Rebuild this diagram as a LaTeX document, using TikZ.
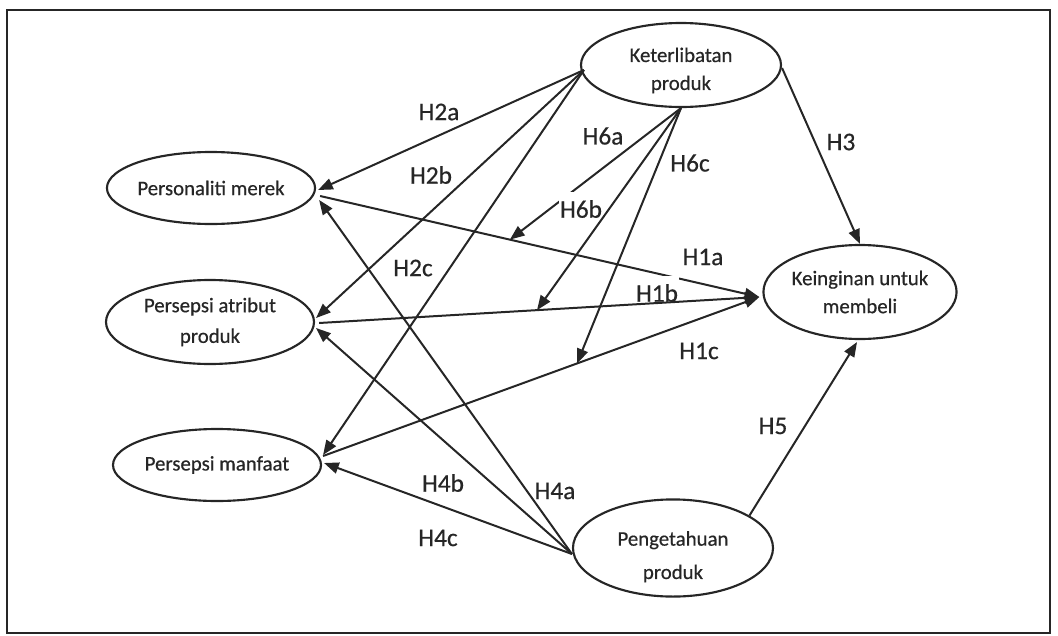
\documentclass[tikz,border=0pt]{standalone}
\usepackage{fontspec}
\setmainfont{Carlito}[FakeBold=0.5]
\usetikzlibrary{shapes.geometric,arrows.meta,calc}
\definecolor{ink}{HTML}{262626}
\begin{document}
\begin{tikzpicture}[x=0.75pt,y=-0.75pt,
  var/.style={draw=ink, ellipse, line width=1.6pt, inner sep=0pt, align=center, text=ink,
              font=\fontsize{15.6pt}{21pt}\selectfont},
  hyp/.style={text=ink, font=\fontsize{19pt}{22pt}\selectfont, inner sep=1pt},
  cut/.style={fill=white, inner xsep=1pt, inner ysep=6pt},
  arr/.style={draw=ink, line width=1.5pt, -{Triangle[length=11pt,width=8.5pt]}}]
\useasboundingbox (0,0) rectangle (1058,636);
\draw[ink, line width=1.6pt] (7,10) rectangle (1050,633);

% variables
\node[var, minimum width=154.5pt, minimum height=54pt] (pm) at (211,188) {Personaliti merek};
\node[var, minimum width=156pt, minimum height=63pt] (pa) at (210,322) {Persepsi atribut\\[2pt]produk};
\node[var, minimum width=156pt, minimum height=54pt] (pf) at (217,465) {Persepsi manfaat};
\node[var, minimum width=150pt, minimum height=63pt] (kp) at (681,65) {\rule{0pt}{19pt}Keterlibatan\\produk};
\node[var, minimum width=142.5pt, minimum height=70.5pt] (kb) at (860,292) {Keinginan untuk\\membeli};
\node[var, minimum width=150pt, minimum height=63pt] (pp) at (673,548) {\rule{0pt}{24pt}Pengetahuan\\[4pt]produk};

% end points
\coordinate (kpL) at ([shift={(4,5)}]kp.west);
\coordinate (ppL) at ([shift={(0,6)}]pp.west);
\coordinate (kbL) at ([shift={(-3,5)}]kb.west);
\coordinate (pmA) at ([shift={(2,2)}]pm.east);
\coordinate (pmB) at ([shift={(4,8)}]pm.east);
\coordinate (pmC) at ([shift={(3,12)}]pm.east);
\coordinate (paA) at ([shift={(1,-4)}]pa.east);
\coordinate (paB) at ([shift={(4,1)}]pa.east);
\coordinate (paC) at ([shift={(1,6)}]pa.east);
\coordinate (pfA) at ([shift={(1,-10)}]pf.east);
\coordinate (pfB) at ([shift={(1,-9)}]pf.east);
\coordinate (pfC) at ([shift={(2,-2)}]pf.east);
\coordinate (m1a) at ($(pmB)!0.432!(kbL)$);
\coordinate (m1b) at ($(paB)!0.495!(kbL)$);
\coordinate (m1c) at ($(pfB)!0.582!(kbL)$);

% connectors
\draw[arr] (kpL) -- (pmA);
\draw[arr] (kpL) -- (paA);
\draw[arr] (kpL) -- (pfA);
\draw[arr] (pmB) -- (kbL);
\draw[arr] (pfB) -- (kbL);
\draw[arr] (kp.south) -- (m1a);
\draw[arr] (kp.south) -- (m1c);
\draw[arr] ([shift={(0,3)}]kp.east) -- (kb.north);
\draw[arr] (pp.23) -- ([shift={(-3,2)}]kb.south);
\draw[arr] (ppL) -- (pmC);
\draw[arr] (ppL) -- (paC);
\draw[arr] (ppL) -- (pfC);

\node[hyp, cut] (l6b) at (581,209) {H6b};
\node[hyp, cut] (l1b) at (657,293) {H1b};

\draw[arr] (kp.south) -- (m1b);
\draw[arr] (paB) -- (kbL);

% labels
\node[hyp] (l2a) at (439,112) {H2a};
\node[hyp] (l2b) at (431,175) {H2b};
\node[hyp] (l2c) at (413,268) {H2c};
\node[hyp] (l6a) at (603,136) {H6a};
\node[hyp] (l6c) at (690,163) {H6c};
\node[hyp] (l3) at (841,142) {H3};
\node[hyp] (l1a) at (703,257) {H1a};
\node[hyp] (l1c) at (699,351) {H1c};
\node[hyp] (l5) at (773,426) {H5};
\node[hyp] (l4a) at (555,491) {H4a};
\node[hyp] (l4b) at (443,483) {H4b};
\node[hyp] (l4c) at (438,538) {H4c};
\end{tikzpicture}
\end{document}
